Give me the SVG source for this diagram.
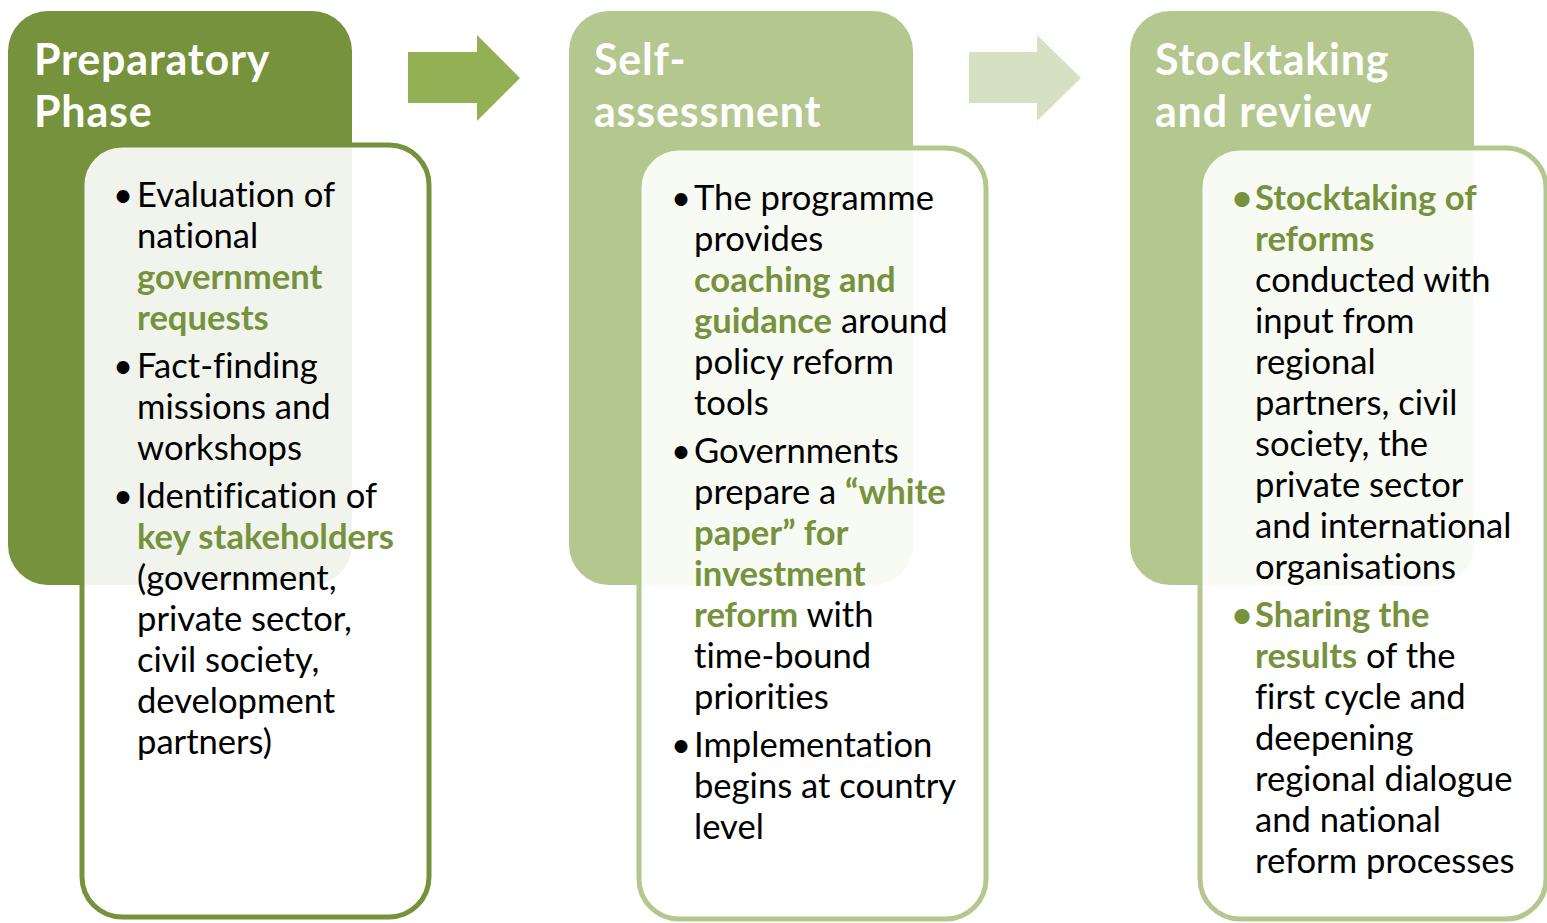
<svg xmlns="http://www.w3.org/2000/svg" width="1547" height="923" viewBox="0 0 1547 923">
<style>
.hd{font-family:Lato,"Liberation Sans",sans-serif;font-weight:bold;font-size:43px;letter-spacing:0.8px;fill:#ffffff}
.tx{font-family:Lato,"Liberation Sans",sans-serif;font-size:34.6px;fill:#000000;font-variant-ligatures:none}
.g{font-weight:bold;fill:#76923C}
.inner{fill:#ffffff;fill-opacity:0.9;stroke-width:5}
</style>
<rect width="1547" height="923" fill="#ffffff"/>
<g id="connectors">
<polygon points="408,52 477,52 477,35 520,78 477,121 477,103 408,103" fill="#93B054"/>
<polygon points="969,52 1037,52 1037,35 1081,78 1037,121 1037,103 969,103" fill="#D6E0C3"/>
</g>
<g id="node1">
<rect x="8" y="11" width="344" height="574" rx="40" fill="#76923C"/>
<text class="hd" x="34" y="75">Preparatory</text>
<text class="hd" x="34" y="127">Phase</text>
<rect class="inner" x="82" y="145" width="347" height="772" rx="40" stroke="#76923C"/>
<text class="tx"><tspan x="113" y="207">•</tspan><tspan x="137" y="207">Evaluation of</tspan><tspan x="137" y="248">national</tspan><tspan class="g" x="137" y="289">government</tspan><tspan class="g" x="137" y="330">requests</tspan></text>
<text class="tx"><tspan x="113" y="378">•</tspan><tspan x="137" y="378">Fact-finding</tspan><tspan x="137" y="419">missions and</tspan><tspan x="137" y="460">workshops</tspan></text>
<text class="tx"><tspan x="113" y="508">•</tspan><tspan x="137" y="508">Identification of</tspan><tspan class="g" x="137" y="549">key stakeholders</tspan><tspan x="137" y="590">(government,</tspan><tspan x="137" y="631">private sector,</tspan><tspan x="137" y="672">civil society,</tspan><tspan x="137" y="713">development</tspan><tspan x="137" y="754">partners)</tspan></text>
</g>
<g id="node2">
<rect x="569" y="11" width="344" height="574" rx="40" fill="#B3C78F"/>
<text class="hd" x="594" y="75">Self-</text>
<text class="hd" x="594" y="127">assessment</text>
<rect class="inner" x="639" y="148" width="347" height="771" rx="40" stroke="#B3C78F"/>
<text class="tx"><tspan x="671" y="210">•</tspan><tspan x="694" y="210">The programme</tspan><tspan x="694" y="251">provides</tspan><tspan class="g" x="694" y="292">coaching and</tspan><tspan x="694" y="333"><tspan class="g">guidance</tspan> around</tspan><tspan x="694" y="374">policy reform</tspan><tspan x="694" y="415">tools</tspan></text>
<text class="tx"><tspan x="671" y="463">•</tspan><tspan x="694" y="463">Governments</tspan><tspan x="694" y="504">prepare a <tspan class="g">“white</tspan></tspan><tspan class="g" x="694" y="545">paper” for</tspan><tspan class="g" x="694" y="586">investment</tspan><tspan x="694" y="627"><tspan class="g">reform</tspan> with</tspan><tspan x="694" y="668">time-bound</tspan><tspan x="694" y="709">priorities</tspan></text>
<text class="tx"><tspan x="671" y="757">•</tspan><tspan x="694" y="757">Implementation</tspan><tspan x="694" y="798">begins at country</tspan><tspan x="694" y="839">level</tspan></text>
</g>
<g id="node3">
<rect x="1130" y="11" width="344" height="574" rx="40" fill="#B3C78F"/>
<text class="hd" x="1155" y="75">Stocktaking</text>
<text class="hd" x="1155" y="127">and review</text>
<rect class="inner" x="1200" y="148" width="346" height="771" rx="40" stroke="#B3C78F"/>
<text class="tx"><tspan class="g" x="1232" y="210">•</tspan><tspan class="g" x="1255" y="210">Stocktaking of</tspan><tspan class="g" x="1255" y="251">reforms</tspan><tspan x="1255" y="292">conducted with</tspan><tspan x="1255" y="333">input from</tspan><tspan x="1255" y="374">regional</tspan><tspan x="1255" y="415">partners, civil</tspan><tspan x="1255" y="456">society, the</tspan><tspan x="1255" y="497">private sector</tspan><tspan x="1255" y="538">and international</tspan><tspan x="1255" y="579">organisations</tspan></text>
<text class="tx"><tspan class="g" x="1232" y="627">•</tspan><tspan class="g" x="1255" y="627">Sharing the</tspan><tspan x="1255" y="668"><tspan class="g">results</tspan> of the</tspan><tspan x="1255" y="709">first cycle and</tspan><tspan x="1255" y="750">deepening</tspan><tspan x="1255" y="791">regional dialogue</tspan><tspan x="1255" y="832">and national</tspan><tspan x="1255" y="873">reform processes</tspan></text>
</g>
</svg>
